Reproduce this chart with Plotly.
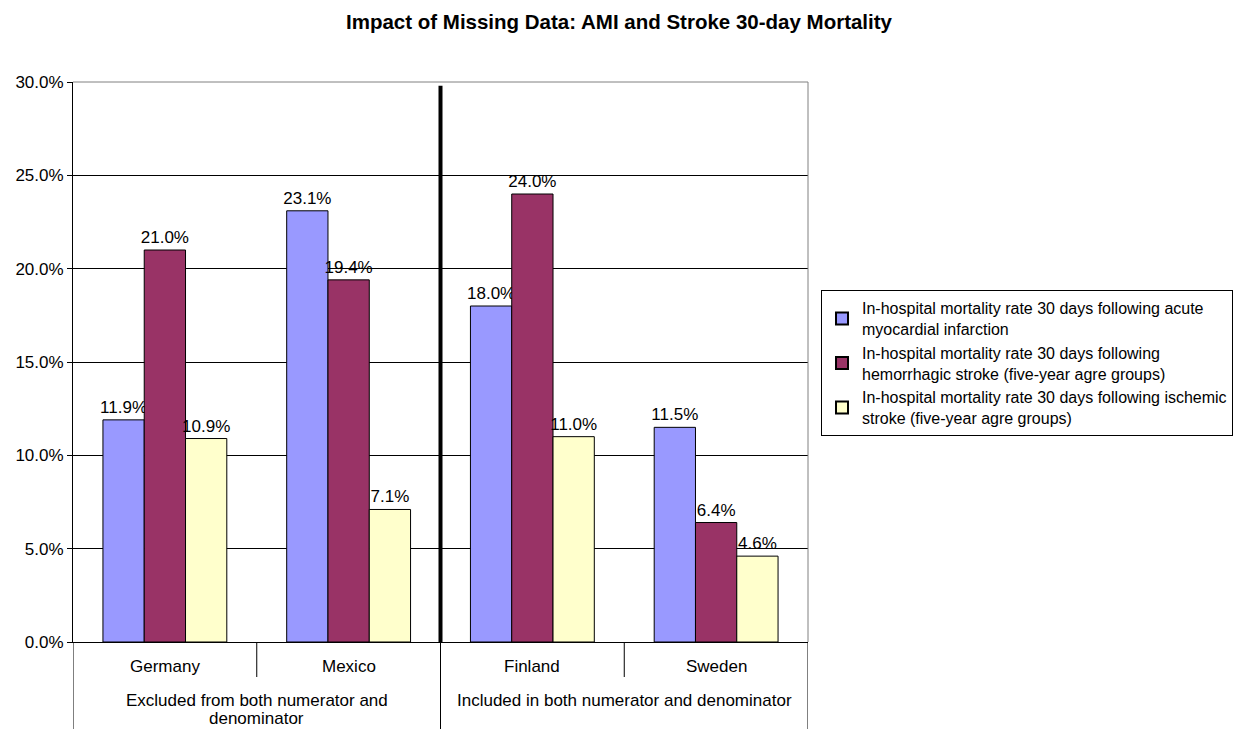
import plotly.graph_objects as go

countries = ["Germany", "Mexico", "Finland", "Sweden"]
groups = ["Excluded from both numerator and<br>denominator", "Included in both numerator and denominator"]
series_names = [
    "In-hospital mortality rate 30 days following acute<br>myocardial infarction",
    "In-hospital mortality rate 30 days following<br>hemorrhagic stroke (five-year agre groups)",
    "In-hospital mortality rate 30 days following ischemic<br>stroke (five-year agre groups)",
]
ami = [0.119, 0.231, 0.180, 0.115]
hemorrhagic = [0.210, 0.194, 0.240, 0.064]
ischemic = [0.109, 0.071, 0.110, 0.046]
colors = ["#9999FF", "#993366", "#FFFFCC"]

FONT = "Liberation Sans, Arial, sans-serif"
FS = 17
xpos = list(range(len(countries)))

fig = go.Figure()
for name, vals, col in zip(series_names, [ami, hemorrhagic, ischemic], colors):
    fig.add_trace(go.Bar(
        x=xpos, y=vals, name=name,
        marker=dict(color=col, line=dict(color="black", width=1)),
        texttemplate="%{y:.1%}", textposition="outside",
        textfont=dict(family=FONT, size=FS, color="black"),
        constraintext="none",
        cliponaxis=False,
    ))

# page has 8px body margin: figure placed at (8, 8)
W, H = 1244, 721
PH = 560
fig.update_layout(
    width=W, height=H,
    paper_bgcolor="white", plot_bgcolor="white",
    margin=dict(l=65, r=444, t=74, b=87, autoexpand=False),
    barmode="group", bargap=0.326, bargroupgap=0,
    font=dict(family=FONT, size=FS, color="black"),
    title=dict(text="<b>Impact of Missing Data: AMI and Stroke 30-day Mortality</b>",
               x=611 / W, xref="container", xanchor="center", y=1 - 14 / H, yanchor="middle",
               font=dict(family=FONT, size=20.5, color="black")),
    showlegend=True,
    legend=dict(x=1.0177, xanchor="left", y=0.498, yanchor="middle",
                bordercolor="black", borderwidth=1, bgcolor="white",
                font=dict(family=FONT, size=16, color="black"),
                tracegroupgap=0, itemsizing="constant", itemwidth=30),
)

fig.update_yaxes(range=[0, 0.30], dtick=0.05, tickformat=".1%",
                 showgrid=True, gridcolor="black", gridwidth=1,
                 showline=True, linecolor="black", linewidth=1,
                 ticks="outside", ticklen=5, tickcolor="black",
                 tickfont=dict(family=FONT, size=FS, color="black"),
                 zeroline=False, automargin=False)
fig.update_xaxes(range=[-0.5, 3.5], showticklabels=False, showgrid=False,
                 zeroline=False, showline=True, linecolor="black", linewidth=1,
                 ticks="", automargin=False)

# plot area border (gray top and right)
fig.add_shape(type="line", xref="paper", yref="paper", x0=0, x1=1, y0=1, y1=1,
              line=dict(color="#808080", width=1))
fig.add_shape(type="line", xref="paper", yref="paper", x0=1, x1=1, y0=0, y1=1,
              line=dict(color="#808080", width=1))

# thick divider between groups
fig.add_shape(type="line", xref="x", yref="y", x0=1.5, x1=1.5, y0=0, y1=0.298,
              line=dict(color="black", width=4))

# category axis separators
bottom = -87 / PH
short = -35 / PH
for xv, yb in [(-0.5, bottom), (0.5, short), (1.5, bottom), (2.5, short), (3.5, bottom)]:
    fig.add_shape(type="line", xref="x", yref="paper", x0=xv, x1=xv, y0=0, y1=yb,
                  line=dict(color="black", width=1))

for i, c in enumerate(countries):
    fig.add_annotation(x=i, y=-24 / PH, xref="x", yref="paper", text=c,
                       showarrow=False, yanchor="middle",
                       font=dict(family=FONT, size=FS, color="black"))
for gx, g in zip([0.5, 2.5], groups):
    for k, line in enumerate(g.split("<br>")):
        fig.add_annotation(x=gx, y=(-58 - 18 * k) / PH, xref="x", yref="paper", text=line,
                           showarrow=False, yanchor="middle", align="center",
                           font=dict(family=FONT, size=FS, color="black"))

fig.write_html("out.html")
